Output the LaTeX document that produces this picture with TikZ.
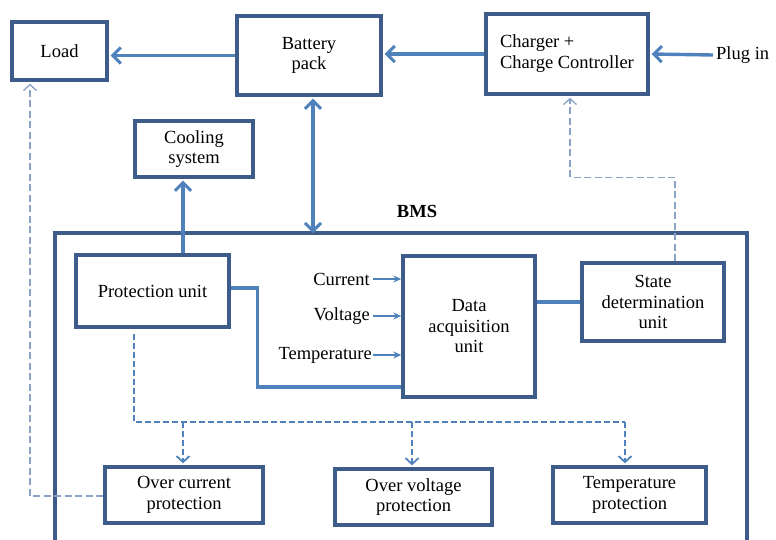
\documentclass[tikz,border=0pt]{standalone}
\usepackage{fontspec}
\setmainfont{Liberation Serif}
\usepackage{xcolor}
\usetikzlibrary{arrows.meta,positioning}
\definecolor{boxblue}{HTML}{3E5C8A}
\definecolor{flowblue}{HTML}{4F81BD}
\definecolor{linkgrey}{HTML}{8BA3C7}
\tikzset{
  unitbox/.style={
    rectangle, draw=boxblue, fill=white, line width=3.4pt,
    minimum width=#1, inner sep=0pt, align=center,
    font=\fontsize{18.5}{20.5}\selectfont
  },
  unitbox/.default=140pt,
  flowtip/.tip={Straight Barb[length=8pt,width=16pt,line width=3pt]},
  flowarrow/.style={
    -flowtip, line width=3.4pt, color=flowblue
  },
  flowline/.style={
    line width=3.4pt, color=flowblue
  },
  sensearrow/.style={
    -{Stealth[length=8pt,width=7pt]}, line width=2pt, color=flowblue
  },
  ctrldash/.style={
    -{Straight Barb[length=6pt,width=13pt,line width=1.8pt]}, line width=2pt, color=flowblue,
    dash pattern=on 6pt off 3pt
  },
  linkdash/.style={
    -{Straight Barb[length=6pt,width=13pt,line width=1.3pt]}, line width=1.5pt, color=linkgrey,
    dash pattern=on 7pt off 3.5pt
  },
  labelnode/.style={
    font=\fontsize{18.5}{20.5}\selectfont, inner sep=3pt
  },
}
\begin{document}
\begin{tikzpicture}[x=1pt,y=-1pt]
  \useasboundingbox (0,0) rectangle (776,539);

  % BMS frame (open at the bottom)
  \coordinate (bmsNW) at (55,233);
  \coordinate (bmsNE) at (747,233);
  \draw[boxblue, line width=3.4pt] (55,545) -- (bmsNW) -- (bmsNE) -- (747,545);
  \node[labelnode, font=\fontsize{18.5}{20.5}\selectfont\bfseries] (bms) at (417,211) {BMS};

  % Top row
  \node[unitbox=95pt, minimum height=58pt] (load) at (59.5,51) {Load};
  \node[unitbox=144pt, minimum height=79pt] (battery) at (309,55.5) {Battery\\pack};
  \node[unitbox=162pt, minimum height=80pt] (charger) at (567,54)
        {\begin{tabular}{@{}l@{}}Charger +\\Charge Controller\end{tabular}};
  \node[labelnode, anchor=west] (plug) at (713,55) {Plug in};
  \node[unitbox=118pt, minimum height=56pt] (cooling) at (194,149) {Cooling\\system};

  % Inside the BMS
  \node[unitbox=153pt, minimum height=72pt] (protect) at (152.5,291) {Protection unit};
  \node[unitbox=132pt, minimum height=141pt] (daq) at (469,326.5) {Data\\acquisition\\unit};
  \node[unitbox=142pt, minimum height=78pt] (state) at (653,302) {State\\determination\\unit};
  \node[labelnode, anchor=east] (current) at (373,279) {Current};
  \node[labelnode, anchor=east] (voltage) at (373,316) {Voltage};
  \node[labelnode, anchor=east, inner sep=1pt] (temp) at (373,355) {Temperature};

  % Protection modules
  \node[unitbox=158pt, minimum height=56pt] (ocp) at (184,495) {Over current\\protection};
  \node[unitbox=157pt, minimum height=56pt] (ovp) at (413.5,497) {Over voltage\\protection};
  \node[unitbox=153pt, minimum height=56pt] (tp) at (629.5,495) {Temperature\\protection};

  % Power flow
  \draw[flowarrow] (battery.west) -- ([xshift=2pt]battery.west -| load.east);
  \draw[flowarrow] (charger.west) -- ([xshift=2pt]charger.west -| battery.east);
  \draw[flowarrow] (plug.west) -- ([xshift=2pt]charger.east);
  \draw[flowarrow, flowtip-flowtip]
        ([xshift=4pt,yshift=-2pt]battery.south) -- ([xshift=4pt]battery.south |- bmsNW);
  \draw[flowarrow] ([xshift=-11pt]cooling.south |- protect.north) -- ([xshift=-11pt,yshift=-2pt]cooling.south);

  % Measurements
  \draw[sensearrow] (current.east) -- (current.east -| daq.west);
  \draw[sensearrow] (voltage.east) -- (voltage.east -| daq.west);
  \draw[sensearrow] (temp.east) -- (temp.east -| daq.west);
  \draw[flowline] ([yshift=3pt]protect.east) -- ++(27,0) |- ([yshift=-60.5pt]daq.west);
  \draw[flowline] (daq.east |- state.west) -- (state.west);

  % Control signals
  \coordinate (bus) at (134,422);
  \draw[ctrldash, -] ([xshift=-18.5pt,yshift=-5pt]protect.south) |- ([xshift=-4.5pt]tp.north |- bus);
  \draw[ctrldash] ([xshift=-1pt]ocp.north |- bus) -- ([xshift=-1pt,yshift=2pt]ocp.north);
  \draw[ctrldash] ([xshift=-1.5pt]ovp.north |- bus) -- ([xshift=-1.5pt,yshift=2pt]ovp.north);
  \draw[ctrldash] ([xshift=-4.5pt]tp.north |- bus) -- ([xshift=-4.5pt,yshift=2pt]tp.north);
  \draw[linkdash] ([xshift=22pt]state.north) -- ++(0,-84) -| ([xshift=3pt,yshift=-2pt]charger.south);
  \draw[linkdash] ([yshift=-1pt]ocp.west) -| ([xshift=-29.5pt,yshift=-2pt]load.south);
\end{tikzpicture}
\end{document}
